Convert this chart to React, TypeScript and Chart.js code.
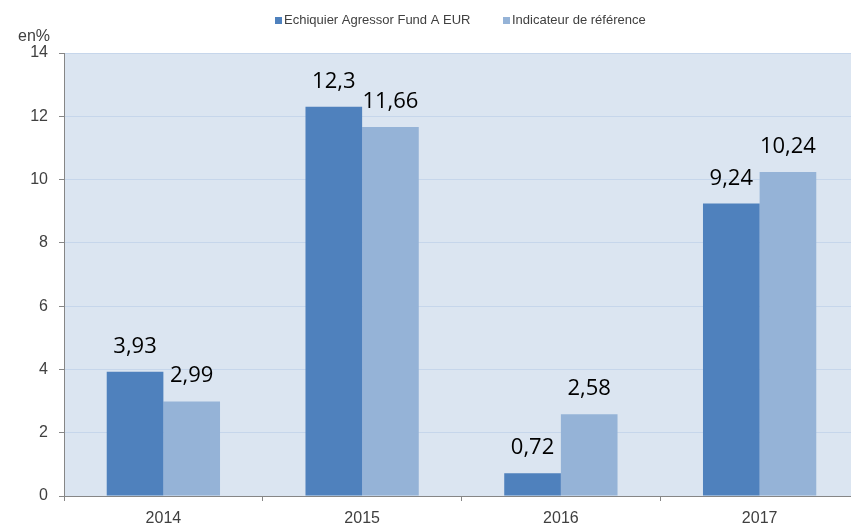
import React, { useEffect, useRef } from "react";
import { Chart, registerables } from "chart.js";

Chart.register(...registerables);

const categories = ["2014", "2015", "2016", "2017"];
const fundLabel = "Echiquier Agressor Fund A EUR";
const benchLabel = "Indicateur de référence";
const fundValues = [3.93, 12.3, 0.72, 9.24];
const benchValues = [2.99, 11.66, 2.58, 10.24];
const yMin = 0;
const yMax = 14;
const yStep = 2;
const yUnit = "en%";

const fundColor = "#4f81bd";
const benchColor = "#95b3d7";
const plotBg = "#dbe5f1";
const gridColor = "#c6d6eb";
const axisColor = "#868686";
const tickTextColor = "#404040";
const tickFont = "'Liberation Sans', Arial, sans-serif";
const labelFont = "'Open Sans', 'Noto Sans', sans-serif";

const fmt = (v: number) => String(v).replace(".", ",");

export default function App() {
  const ref = useRef<HTMLCanvasElement | null>(null);

  useEffect(() => {
    document.body.style.margin = "0";
    document.body.style.overflow = "hidden";
    const canvas = ref.current;
    if (!canvas) return;

    const bgPlugin = {
      id: "bg",
      beforeDraw(chart: any) {
        const { ctx, chartArea } = chart;
        ctx.save();
        ctx.fillStyle = "#ffffff";
        ctx.fillRect(0, 0, chart.width, chart.height);
        ctx.fillStyle = plotBg;
        ctx.fillRect(
          chartArea.left,
          chartArea.top,
          chartArea.right - chartArea.left,
          chartArea.bottom - chartArea.top
        );
        ctx.restore();
      },
    };

    const overlayPlugin = {
      id: "overlay",
      afterDatasetsDraw(chart: any) {
        const { ctx } = chart;
        ctx.save();
        ctx.fillStyle = "#000000";
        ctx.font = `22px ${labelFont}`;
        ctx.textAlign = "center";
        ctx.textBaseline = "alphabetic";
        chart.data.datasets.forEach((ds: any, di: number) => {
          const meta = chart.getDatasetMeta(di);
          meta.data.forEach((bar: any, i: number) => {
            ctx.fillText(fmt(ds.data[i]), bar.x, bar.y - 19);
          });
        });
        ctx.restore();
      },
      afterDraw(chart: any) {
        const { ctx } = chart;
        ctx.save();
        // unit label
        ctx.fillStyle = tickTextColor;
        ctx.font = `16px ${tickFont}`;
        ctx.textAlign = "right";
        ctx.textBaseline = "alphabetic";
        ctx.fillText(yUnit, 50, 41);
        // legend
        ctx.font = `13px ${tickFont}`;
        ctx.textAlign = "left";
        ctx.fillStyle = fundColor;
        ctx.fillRect(275, 17, 7, 7);
        ctx.fillStyle = tickTextColor;
        ctx.fillText(fundLabel, 284, 24);
        ctx.fillStyle = benchColor;
        ctx.fillRect(503, 17, 7, 7);
        ctx.fillStyle = tickTextColor;
        ctx.fillText(benchLabel, 512, 24);
        ctx.restore();
      },
    };

    const chart = new Chart(canvas, {
      type: "bar",
      data: {
        labels: categories,
        datasets: [
          {
            label: fundLabel,
            data: fundValues,
            backgroundColor: fundColor,
            borderWidth: 0,
            categoryPercentage: 0.57,
            barPercentage: 1,
          },
          {
            label: benchLabel,
            data: benchValues,
            backgroundColor: benchColor,
            borderWidth: 0,
            categoryPercentage: 0.57,
            barPercentage: 1,
          },
        ],
      },
      options: {
        responsive: false,
        animation: false,
        devicePixelRatio: 1,
        layout: { padding: { top: 53, right: 11, left: 0, bottom: 0 } },
        plugins: {
          legend: { display: false },
          tooltip: { enabled: false },
          title: { display: false },
        },
        scales: {
          x: {
            type: "category",
            offset: true,
            grid: {
              offset: true,
              drawOnChartArea: false,
              tickLength: 5,
              color: axisColor,
              tickColor: axisColor,
            },
            border: { color: axisColor, width: 1 },
            ticks: {
              color: tickTextColor,
              font: { family: tickFont, size: 16 },
              padding: 8,
              maxRotation: 0,
            },
            afterFit(scale: any) {
              scale.height = 30;
            },
          },
          y: {
            min: yMin,
            max: yMax,
            ticks: {
              stepSize: yStep,
              color: tickTextColor,
              font: { family: tickFont, size: 16 },
              padding: 11,
            },
            grid: {
              color: gridColor,
              tickColor: axisColor,
              tickLength: 5,
            },
            border: { color: axisColor, width: 1 },
            afterFit(scale: any) {
              scale.width = 64;
            },
          },
        },
      },
      plugins: [bgPlugin, overlayPlugin],
    } as any);

    return () => chart.destroy();
  }, []);

  return (
    <div
      style={{
        position: "fixed",
        left: 0,
        top: 0,
        width: 851,
        height: 526,
        overflow: "hidden",
        background: "#ffffff",
      }}
    >
      <canvas ref={ref} width={870} height={526} style={{ display: "block" }} />
    </div>
  );
}
